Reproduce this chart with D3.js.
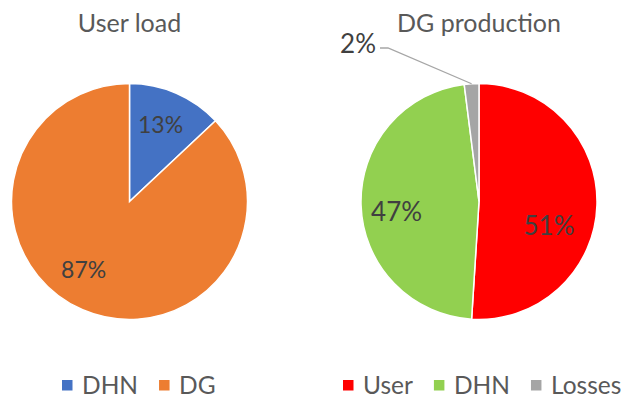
<!DOCTYPE html>
<html>
<head>
<meta charset="utf-8">
<script src="https://cdn.jsdelivr.net/npm/d3@7"></script>
<style>
  body { margin: 0; background: #fff; }
  svg text { font-family: Lato, "Open Sans", sans-serif; }
</style>
</head>
<body>
<svg width="625" height="401"></svg>
<script>
// chart values
const loadCategories = ["DHN", "DG"]
const loadValues = [13, 87]
const loadColors = ["#4472C4", "#ED7D31"]

const prodCategories = ["User", "DHN", "Losses"]
const prodValues = [51, 47, 2]
const prodColors = ["#FF0000", "#92D050", "#A5A5A5"]

const svg = d3.select("svg")
const radius = 118

// where excel put the labels (angle in degrees, distance from centre)
const loadLabelPos = [{a: 22, r: 83}, {a: 214, r: 82}]
const prodLabelPos = [{a: 109, r: 74}, {a: 263, r: 83}, null]

function drawPie(cx, cy, title, cats, values, colors, labelPos, labelSize) {
    let g = svg.append("g").attr("transform", `translate(${cx},${cy})`)
    let pie = d3.pie().sort(null).value(d => d)
    let arcs = pie(values)
    let arc = d3.arc().innerRadius(0).outerRadius(radius)
    let total = d3.sum(values)

    g.selectAll("path")
        .data(arcs)
        .join("path")
        .attr("d", arc)
        .attr("fill", (d, i) => colors[i])
        .attr("stroke", "#fff")
        .attr("stroke-width", 1.5)

    // labels inside slices
    g.selectAll("text.lbl")
        .data(arcs.filter((d, i) => labelPos[i]))
        .join("text")
        .attr("class", "lbl")
        .attr("transform", d => {
            let p = labelPos[d.index]
            let xy = d3.pointRadial(p.a * Math.PI / 180, p.r)
            return `translate(${xy[0]},${xy[1]})`
        })
        .attr("text-anchor", "middle")
        .attr("dy", "0.36em")
        .attr("font-size", labelSize)
        .attr("fill", "#404040")
        .text(d => Math.round(d.value / total * 100) + "%")

    svg.append("text")
        .attr("x", cx)
        .attr("y", 32)
        .attr("text-anchor", "middle")
        .attr("font-size", 25)
        .attr("fill", "#595959")
        .text(title)

    return {g, arcs, total}
}

let left = drawPie(129.5, 201.5, "User load", loadCategories, loadValues, loadColors, loadLabelPos, 23)
let right = drawPie(479, 201.5, "DG production", prodCategories, prodValues, prodColors, prodLabelPos, 26)

// outside label with leader line for the small slice
let small = right.arcs[2]
let mid = (small.startAngle + small.endAngle) / 2
let tip = d3.pointRadial(mid, radius)
let elbow = [-91, -153.5]
right.g.append("path")
    .attr("d", d3.line()([tip, elbow, [elbow[0] - 8, elbow[1]]]))
    .attr("fill", "none")
    .attr("stroke", "#A6A6A6")
    .attr("stroke-width", 1.3)
right.g.append("text")
    .attr("x", elbow[0] - 12)
    .attr("y", elbow[1])
    .attr("dy", "0.2em")
    .attr("text-anchor", "end")
    .attr("font-size", 26)
    .attr("fill", "#404040")
    .text(Math.round(small.value / right.total * 100) + "%")

// legends
function drawLegend(x0, cats, colors) {
    let lg = svg.append("g").attr("transform", `translate(${x0},385)`)
    let x = 0
    cats.forEach((c, i) => {
        lg.append("rect")
            .attr("x", x).attr("y", -5)
            .attr("width", 10.5).attr("height", 10.5)
            .attr("fill", colors[i])
        let t = lg.append("text")
            .attr("x", x + 20)
            .attr("y", 9)
            .attr("font-size", 24.5)
            .attr("fill", "#595959")
            .text(c)
        x += 20 + t.node().getComputedTextLength() + 21
    })
}
drawLegend(62, loadCategories, loadColors)
drawLegend(343, prodCategories, prodColors)
</script>
</body>
</html>
